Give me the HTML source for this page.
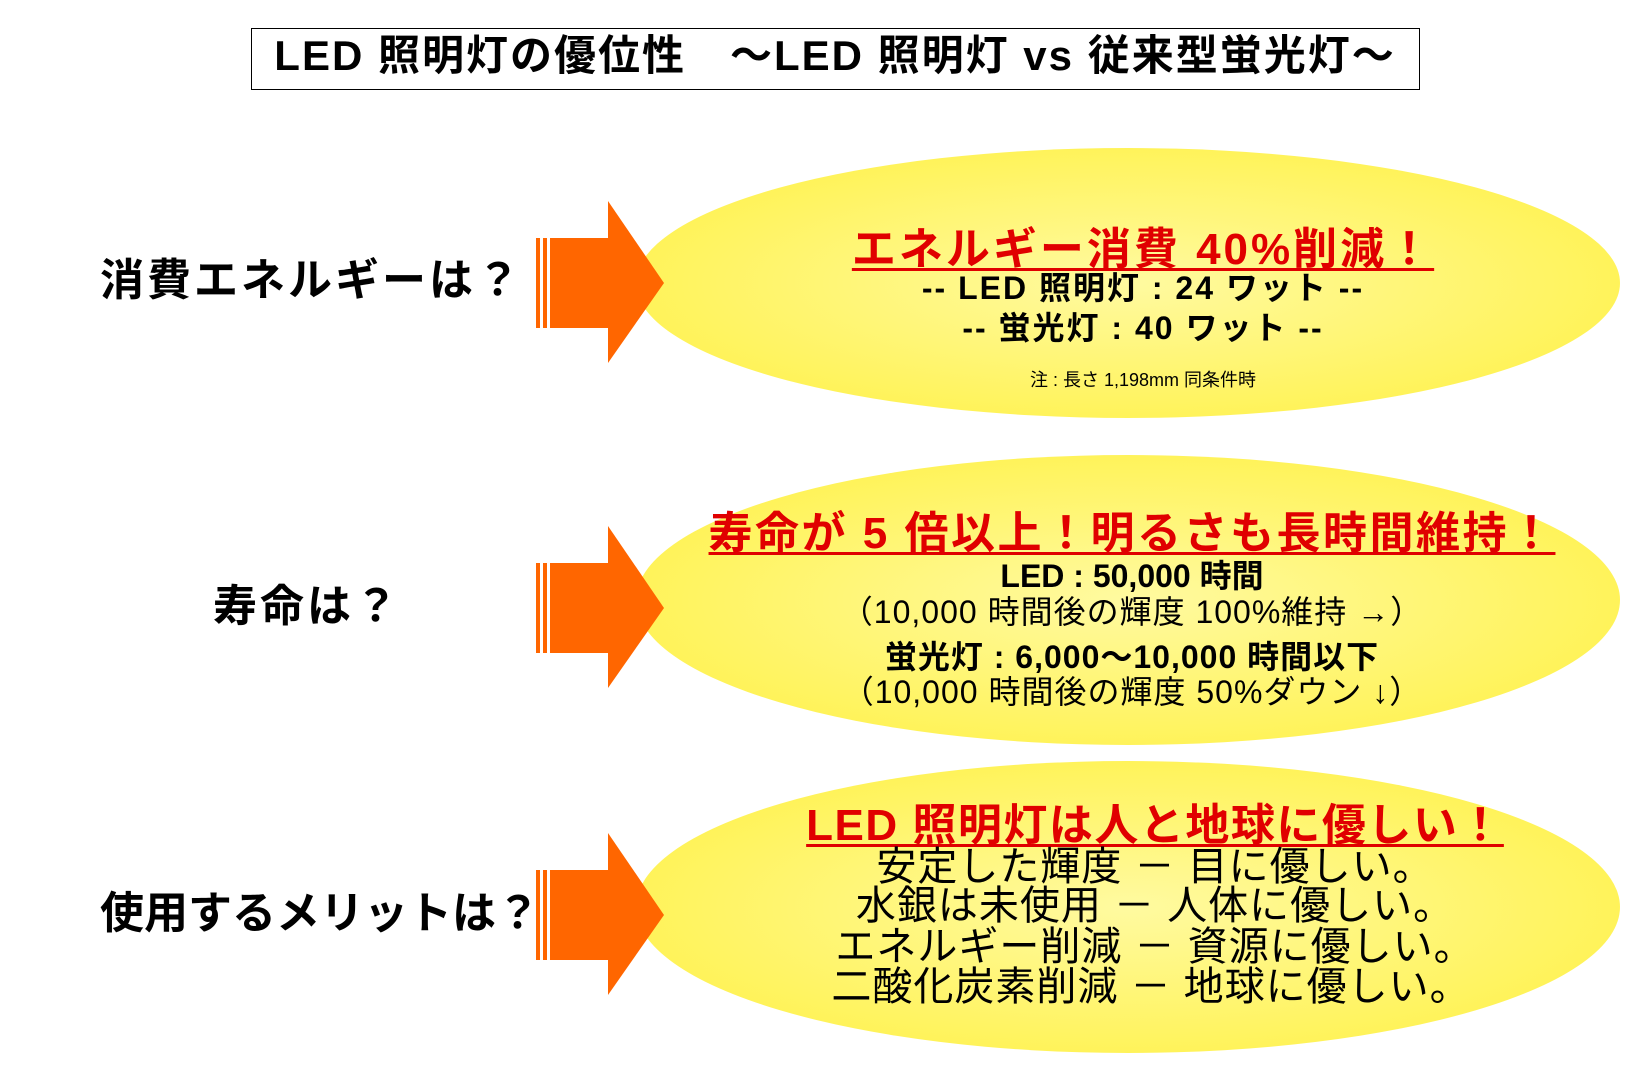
<!DOCTYPE html>
<html><head><meta charset="utf-8"><style>
body{margin:0;width:1650px;height:1090px;background:#fff;position:relative;overflow:hidden;font-family:"Liberation Sans","Noto Sans CJK JP",sans-serif;}
.a{position:absolute;white-space:nowrap;}
.c{transform:translateX(-50%);}
.r{color:#e00000;font-weight:bold;text-decoration:underline;text-decoration-thickness:3px;text-underline-offset:4px;}
.b{font-weight:bold;}
</style></head><body>
<div class="a" style="left:251px;top:28px;width:1167px;height:60px;border:1.5px solid #000;"></div>
<div class="a c b" style="left:835px;top:32px;font-size:42px;line-height:48px;letter-spacing:2px;">LED 照明灯の優位性　～LED 照明灯 vs 従来型蛍光灯～</div>
<svg class="a" style="left:0;top:0" width="1650" height="1090">
<defs><radialGradient id="g" cx="50%" cy="50%" r="50%"><stop offset="0" stop-color="#fffaa0"/><stop offset="1" stop-color="#fff35a"/></radialGradient></defs>
<ellipse cx="1128" cy="283" rx="492" ry="135" fill="url(#g)"/>
<ellipse cx="1128" cy="600" rx="492" ry="145" fill="url(#g)"/>
<ellipse cx="1128" cy="907" rx="492" ry="146" fill="url(#g)"/>
<g fill="#ff6600">
<g id="ar"><rect x="536" y="238" width="4" height="90"/><rect x="543" y="238" width="4" height="90"/><rect x="550" y="238" width="58" height="90"/><polygon points="608,201 664,283 608,363"/></g>
<use href="#ar" y="325"/>
<use href="#ar" y="632"/>
</g>
</svg>
<div class="a b" style="left:100px;top:244px;font-size:44px;letter-spacing:3px;">消費エネルギーは？</div>
<div class="a c b" style="left:307px;top:570px;font-size:44px;letter-spacing:3px;">寿命は？</div>
<div class="a b" style="left:100px;top:877px;font-size:44px;letter-spacing:0px;">使用するメリットは？</div>

<div class="a c r" style="left:1143px;top:213px;font-size:44px;letter-spacing:3px;">エネルギー消費 40%削減！</div>
<div class="a c b" style="left:1143px;top:263px;font-size:32px;letter-spacing:2px;">-- LED 照明灯 : 24 ワット --</div>
<div class="a c b" style="left:1143px;top:303px;font-size:32px;letter-spacing:2px;">-- 蛍光灯 : 40 ワット --</div>
<div class="a c" style="left:1143px;top:366px;font-size:18px;">注 : 長さ 1,198mm 同条件時</div>

<div class="a c r" style="left:1132px;top:497px;font-size:44px;letter-spacing:2.5px;">寿命が 5 倍以上！明るさも長時間維持！</div>
<div class="a c b" style="left:1132px;top:551px;font-size:32px;">LED : 50,000 時間</div>
<div class="a c" style="left:1132px;top:587px;font-size:32px;letter-spacing:1px;">（10,000 時間後の輝度 100%維持 →）</div>
<div class="a c b" style="left:1132px;top:632px;font-size:32px;letter-spacing:1px;">蛍光灯 : 6,000～10,000 時間以下</div>
<div class="a c" style="left:1132px;top:667px;font-size:32px;letter-spacing:1px;">（10,000 時間後の輝度 50%ダウン ↓）</div>

<div class="a c r" style="left:1155px;top:789px;font-size:44px;letter-spacing:1.5px;">LED 照明灯は人と地球に優しい！</div>
<div class="a c" style="left:1155px;top:846px;font-size:40px;line-height:42px;letter-spacing:1px;">安定した輝度 － 目に優しい。</div>
<div class="a c" style="left:1155px;top:885px;font-size:40px;line-height:42px;letter-spacing:1px;">水銀は未使用 － 人体に優しい。</div>
<div class="a c" style="left:1155px;top:926px;font-size:40px;line-height:42px;letter-spacing:1px;">エネルギー削減 － 資源に優しい。</div>
<div class="a c" style="left:1151px;top:966px;font-size:40px;line-height:42px;letter-spacing:1px;">二酸化炭素削減 － 地球に優しい。</div>
</body></html>
